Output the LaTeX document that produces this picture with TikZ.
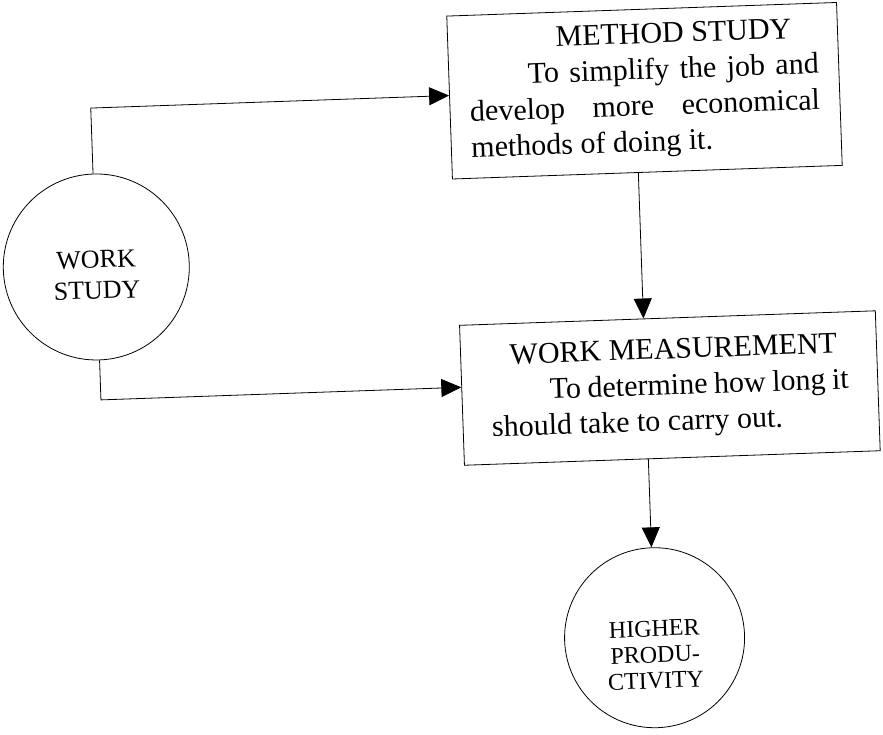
\documentclass[tikz,border=0pt]{standalone}
\usepackage{fontspec}
\setmainfont{Liberation Serif}
\usetikzlibrary{arrows.meta}
\begin{document}
\begin{tikzpicture}[x=1pt,y=1pt,
  line width=0.8pt,
  boxnode/.style={draw, rectangle, inner sep=0pt, font=\fontsize{30}{36}\selectfont},
  circnode/.style={draw, circle, inner sep=0pt},
  circtext/.style={align=center, inner sep=0pt},
  arr/.style={-{Triangle[length=20pt,width=18pt]}},
]
\useasboundingbox (0,0) rectangle (883,-734);
\begin{scope}[rotate around={2:(441,-367)}, transform shape]
\node[boxnode, minimum width=390pt, minimum height=163pt] (ms) at (654,-98)
  {\vbox{\baselineskip=36pt
    \hbox to 350pt{\hspace*{88pt}METHOD STUDY\hfil}
    \hbox to 350pt{\hspace*{59pt}To simplify the job and}
    \hbox to 350pt{develop more economical}
    \hbox to 350pt{methods of doing it.\hfil}}};
\node[boxnode, minimum width=416pt, minimum height=140pt] (wm) at (669,-396)
  {\vbox{\baselineskip=36pt
    \hbox to 358pt{\hspace*{20pt}WORK MEASUREMENT\hfil}
    \hbox to 358pt{\hspace*{59pt}To determine how long it}
    \hbox to 358pt{should take to carry out.\hfil}}};
\node[circnode, minimum size=186pt] (ws) at (100,-255) {};
\node[circtext, font=\fontsize{26}{31}\selectfont] (wst) at ([yshift=-8pt]ws.center) {WORK\\STUDY};
\node[circnode, minimum size=180pt] (hp) at (645,-645) {};
\node[circtext, font=\fontsize{24}{26}\selectfont] (hpt) at ([yshift=-17pt]hp.center) {HIGHER\\PRODU-\\CTIVITY};
\draw[arr] (ws.north) |- ([yshift=2pt]ms.west);
\draw[arr] (ws.south) |- ([yshift=8pt]wm.west);
\draw[arr] ([xshift=-9pt]ms.south) -- ([xshift=-9pt]ms.south |- wm.north);
\draw[arr] (hp.north |- wm.south) -- (hp.north);
\end{scope}
\end{tikzpicture}
\end{document}
